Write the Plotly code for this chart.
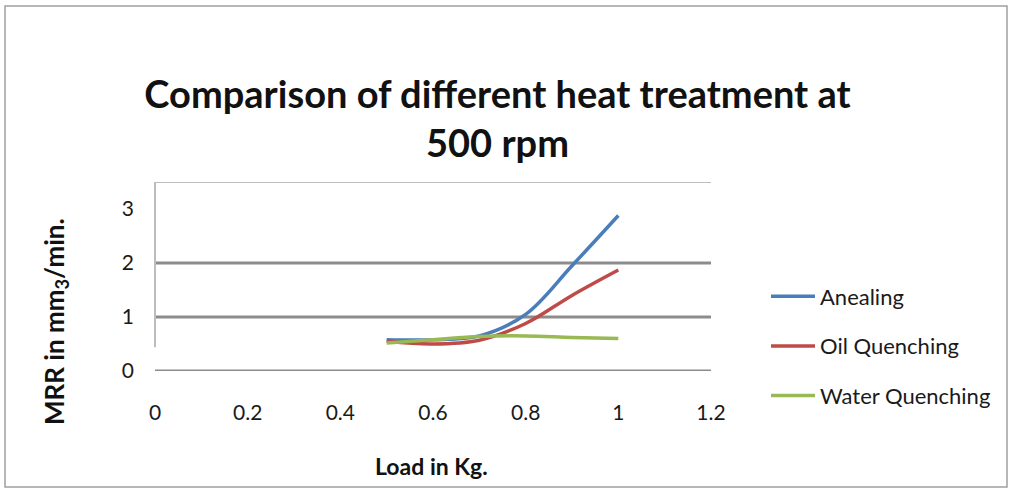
import plotly.graph_objects as go

load_kg = [0.5, 0.6, 0.7, 0.8, 0.9, 1.0]
anealing = [0.58, 0.58, 0.65, 1.05, 1.95, 2.88]
oil_quenching = [0.55, 0.50, 0.57, 0.88, 1.40, 1.87]
water_quenching = [0.52, 0.58, 0.64, 0.65, 0.62, 0.60]

x_ticks = [0, 0.2, 0.4, 0.6, 0.8, 1, 1.2]
x_tick_text = ["0", "0.2", "0.4", "0.6", "0.8", "1", "1.2"]
y_ticks = [0, 1, 2, 3]
grid_values = [0, 1, 2]

FONT = "Lato"

PL, PR, PT, PB = 155, 711, 182, 371  # plot area on screen
PW, PH = PR - PL, PB - PT

fig = go.Figure()
series = [("Anealing", anealing, "#4a7ebb"),
          ("Oil Quenching", oil_quenching, "#be4b48"),
          ("Water Quenching", water_quenching, "#98b954")]
for name, vals, col in series:
    fig.add_trace(go.Scatter(x=load_kg, y=vals, name=name, mode="lines",
                             line=dict(color=col, width=3.5, shape="spline"),
                             legendgroup=name))

shapes = []
for g in grid_values:
    shapes.append(dict(type="line", xref="paper", yref="y", x0=0, x1=1, y0=g, y1=g,
                       line=dict(color="#8c8c8c", width=3), layer="below"))
shapes.append(dict(type="line", xref="paper", yref="y", x0=0, x1=1, y0=3.5, y1=3.5,
                   line=dict(color="#bdbdbd", width=2), layer="below"))
shapes.append(dict(type="line", xref="paper", yref="y", x0=0, x1=0, y0=0.44, y1=3.5,
                   line=dict(color="#bdbdbd", width=2), layer="below"))
# outer chart border
shapes.append(dict(type="rect", xref="paper", yref="paper",
                   x0=(5 - PL) / PW, x1=(1007 - PL) / PW,
                   y0=-(487 - PB) / PH, y1=1 + (PT - 6) / PH,
                   line=dict(color="#a0a0a0", width=1.5)))

W, H = 1013, 493
fig.update_layout(
    width=W, height=H,
    margin=dict(l=PL, r=W - PW - PL, t=PT, b=H - PH - PT),
    paper_bgcolor="white", plot_bgcolor="white",
    font=dict(family=FONT, color="#1a1a1a"),
    title=dict(text="<b>Comparison of different heat treatment at<br>500 rpm</b>",
               x=497.5 / W, xanchor="center", y=1 - 108 / H, yanchor="top",
               font=dict(size=38, family=FONT, color="#111")),
    xaxis=dict(range=[0, 1.2], tickvals=x_ticks, ticktext=x_tick_text,
               showgrid=False, zeroline=False, showline=False,
               ticks="", ticklabelstandoff=27,
               tickfont=dict(size=21, family=FONT, color="#1a1a1a")),
    yaxis=dict(range=[0, 3.5], tickvals=y_ticks, showgrid=False, zeroline=False,
               showline=False, ticks="", ticklabelstandoff=20,
               tickfont=dict(size=21, family=FONT, color="#1a1a1a")),
    legend=dict(x=1 + (766 - PR) / PW, xanchor="left", y=(PB - 346) / PH, yanchor="middle",
                font=dict(size=22, family=FONT, color="#1a1a1a"),
                tracegroupgap=18, traceorder="grouped", itemwidth=44),
    shapes=shapes,
    annotations=[
        dict(text="<b>Load in Kg.</b>", xref="paper", yref="paper",
             x=(431 - PL) / PW, y=-(466 - PB) / PH, xanchor="center", yanchor="middle",
             showarrow=False, font=dict(size=23, family=FONT, color="#111")),
        dict(text="<b>MRR in mm<sub>3</sub>/min.</b>", xref="paper", yref="paper",
             x=-(PL - 55) / PW, y=(PB - 322) / PH, xanchor="center", yanchor="middle",
             textangle=-90, showarrow=False,
             font=dict(size=26, family=FONT, color="#111")),
    ],
)

fig.write_html("out.html", config={"displayModeBar": False},
               post_script="document.body.style.margin='0';document.body.style.overflow='hidden';")
